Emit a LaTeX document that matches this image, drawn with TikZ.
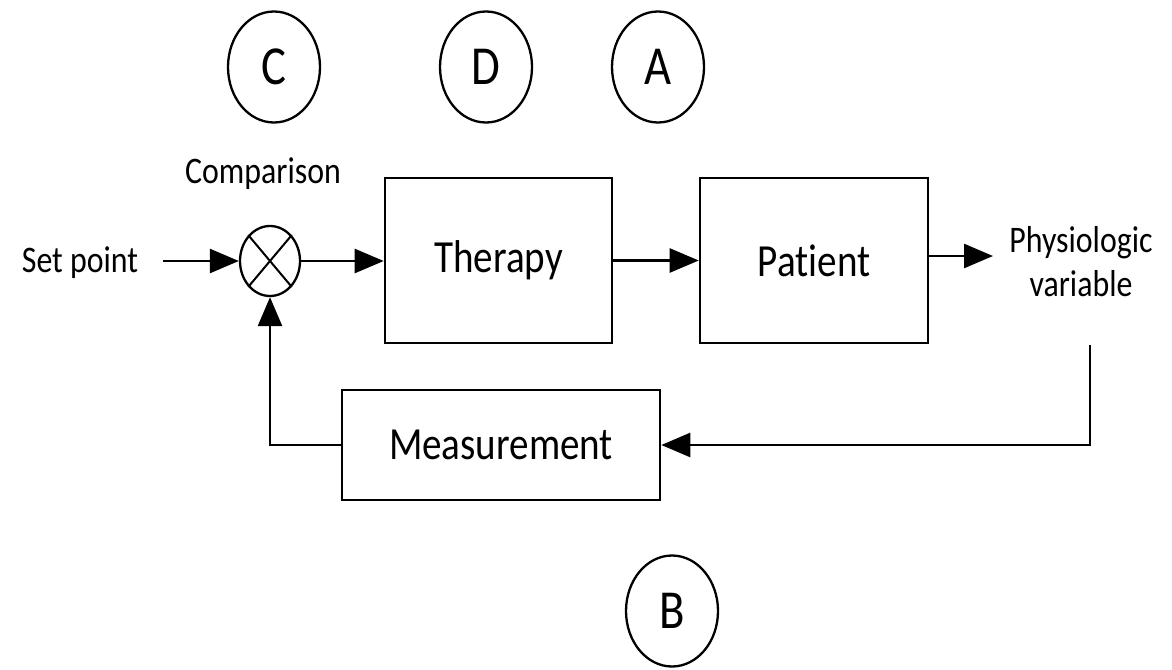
\documentclass[tikz,border=0pt]{standalone}
\usepackage{fontspec}
\setmainfont[FakeStretch=0.85, RawFeature={-liga;-clig;-calt;-dlig}]{Carlito}
\usetikzlibrary{arrows.meta,shapes.geometric}
\begin{document}
\begin{tikzpicture}[x=1pt,y=-1pt,
  line width=2.6pt,
  box/.style={draw, rectangle, inner sep=0pt, font=\fontsize{46}{52}\selectfont},
  lett/.style={draw, ellipse, line width=2.3pt, minimum width=92pt, minimum height=111pt, inner sep=0pt, font=\fontsize{55}{60}\selectfont},
  lbl/.style={font=\fontsize{37.5}{44}\selectfont, align=center, inner sep=0pt},
  arr/.style={-{Triangle[length=29pt,width=24pt]}},
]
\useasboundingbox[fill=white] (0,0) rectangle (1172,669);
% lettered circles
\node[lett] (C) at (274,67) {C};
\node[lett] (D) at (486,67) {D};
\node[lett] (A) at (658,67) {A};
\node[lett] (B) at (672,611) {B};
% labels
\node[lbl, anchor=base] (sp) at (80,272) {Set point};
\node[lbl, anchor=base] (cmp) at (263,183) {Comparison};
\node[lbl] (pv) at (1081,262) {Physiologic\\variable};
% junction
\node[draw, ellipse, line width=2.3pt, minimum width=60pt, minimum height=70pt, inner sep=0pt] (j) at (270,261) {};
\draw[line width=2pt] (j.50) -- (j.230);
\draw[line width=2pt] (j.130) -- (j.310);
% boxes
\node[box, minimum width=227pt, minimum height=165pt] (ther) at (498.5,260.5) {Therapy};
\node[box, minimum width=228pt, minimum height=165pt] (pat) at (814,260.5) {Patient};
\node[box, minimum width=318pt, minimum height=110pt] (meas) at (501,445) {Measurement};
% connectors
\coordinate (spout) at (163,261);
\coordinate (pvin) at (993,256);
\coordinate (fb) at (1090,345);
\draw[arr] (spout) -- (j.west);
\draw[arr] (j.east) -- (ther.west |- j.east);
\draw[arr] (ther.east) -- (pat.west);
\draw[arr] (pat.east |- pvin) -- (pvin);
\draw[arr] (fb) |- (meas.east);
\draw[arr] (meas.west) -| (j.south);
\end{tikzpicture}
\end{document}
